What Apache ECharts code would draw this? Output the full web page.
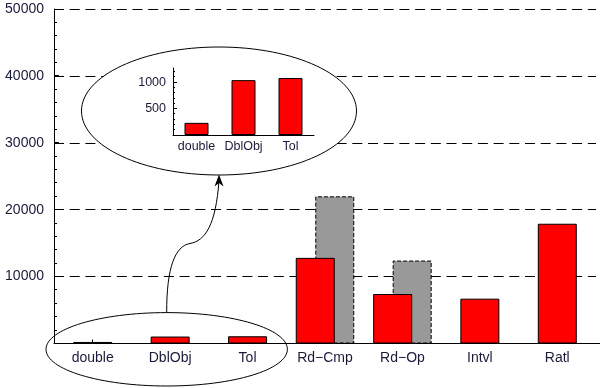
<!DOCTYPE html>
<html><head><meta charset="utf-8">
<script src="https://cdn.jsdelivr.net/npm/echarts@6/dist/echarts.min.js"></script>
<style>html,body{margin:0;padding:0;background:#fff}#c{width:600px;height:388px}</style>
</head><body><div id="c"></div>
<script>
// ---- data ----
const categories = ['double', 'DblObj', 'Tol', 'Rd\u2212Cmp', 'Rd\u2212Op', 'Intvl', 'Ratl'];
const redValues = [230, 1040, 1080, 12800, 7400, 6700, 17900];
const grayValues = [null, null, null, 22000, 12400, null, null];
const yTicks = [0, 10000, 20000, 30000, 40000, 50000];
const yMinorStep = 2000;
const insetCategories = ['double', 'DblObj', 'Tol'];
const insetValues = [230, 1040, 1080];
const insetTicks = [0, 500, 1000];
const insetMinorStep = 100;
const insetMax = 1270;

// ---- styles ----
const FONT = 'Liberation Sans, Arial, sans-serif';
const TXT = '#1a1a3a';
const RED = {color: '#ff0000', borderColor: '#000', borderWidth: 1};
const plain = v => String(v);

const chart = echarts.init(document.getElementById('c'), null, {renderer: 'canvas'});

const singleRed = redValues.map((v, i) => grayValues[i] == null ? v : '-');
const pairedRed = redValues.map((v, i) => grayValues[i] != null ? v : '-');
const pairedGray = grayValues.map(v => v == null ? '-' : v);

const yMin = yTicks[0], yMax = yTicks[yTicks.length - 1];
const MAIN_LEFT = 54, INSET_LEFT = 173;

const decorations = [
  {type: 'ellipse', z: 5, shape: {cx: 219, cy: 111, rx: 137.5, ry: 64},
   style: {fill: '#fff', stroke: '#000', lineWidth: 1}},
  {type: 'ellipse', z: 20, shape: {cx: 166.7, cy: 349.3, rx: 120.7, ry: 36.7},
   style: {fill: null, stroke: '#000', lineWidth: 1}},
  {type: 'bezierCurve', z: 20, shape: {x1: 166.7, y1: 312.5, cpx1: 166.5, cpy1: 268, cpx2: 175, cpy2: 246, x2: 190, y2: 243.5},
   style: {fill: null, stroke: '#000', lineWidth: 1}},
  {type: 'bezierCurve', z: 20, shape: {x1: 190, y1: 243.5, cpx1: 205, cpy1: 241, cpx2: 216, cpy2: 225, x2: 219, y2: 180},
   style: {fill: null, stroke: '#000', lineWidth: 1}},
  {type: 'polygon', z: 20, shape: {points: [[219, 174.5], [214.5, 186.5], [219, 183], [223.5, 186.5]]},
   style: {fill: '#000', stroke: null}},
  {type: 'line', z: 1, shape: {x1: 595, y1: 343.5, x2: 600, y2: 343.5},
   style: {stroke: '#000', lineWidth: 1}}
];

chart.setOption({
  animation: false,
  backgroundColor: '#fff',
  textStyle: {fontFamily: FONT},
  grid: [
    {left: MAIN_LEFT, right: 4, top: 9, bottom: 44.5},
    {left: INSET_LEFT, top: 68, width: 141, height: 67, z: 10}
  ],
  xAxis: [
    {
      type: 'category', data: categories, gridIndex: 0,
      axisLine: {lineStyle: {color: '#000', width: 1}},
      axisTick: {show: false},
      axisLabel: {color: TXT, fontSize: 14, fontFamily: FONT, margin: 8, interval: 0},
      splitLine: {show: false}
    },
    {
      type: 'category', data: categories, gridIndex: 0, show: false
    },
    {
      type: 'category', data: insetCategories, gridIndex: 1, z: 10,
      axisLine: {lineStyle: {color: '#000', width: 1}},
      axisTick: {show: false},
      axisLabel: {color: TXT, fontSize: 12.5, fontFamily: FONT, margin: 5, interval: 0},
      splitLine: {show: false}
    }
  ],
  yAxis: [
    {
      type: 'value', gridIndex: 0, position: 'left',
      min: yMin, max: yMax, interval: yTicks[1] - yTicks[0],
      axisLine: {show: true, lineStyle: {color: '#000', width: 1}},
      axisTick: {show: false}, minorTick: {show: false},
      axisLabel: {color: TXT, fontSize: 14, fontFamily: FONT, margin: 10, formatter: plain, showMinLabel: false},
      splitLine: {show: true, lineStyle: {color: '#000', width: 1, type: [10, 5.7]}}
    },
    {
      type: 'value', gridIndex: 1, z: 10, position: 'left',
      min: insetTicks[0], max: insetMax, interval: insetTicks[1] - insetTicks[0],
      axisLine: {show: true, lineStyle: {color: '#000', width: 1}},
      axisTick: {show: false}, minorTick: {show: false},
      axisLabel: {color: TXT, fontSize: 12.5, fontFamily: FONT, margin: 7, formatter: plain, showMinLabel: false, showMaxLabel: false},
      splitLine: {show: false}
    }
  ],
  series: [
    {type: 'bar', xAxisIndex: 0, yAxisIndex: 0, data: singleRed, barWidth: 39, itemStyle: RED, z: 3},
    {type: 'bar', xAxisIndex: 1, yAxisIndex: 0, data: pairedRed, barWidth: 39, barGap: '-50%', itemStyle: RED, z: 3},
    {type: 'bar', xAxisIndex: 1, yAxisIndex: 0, data: pairedGray, barWidth: 39, barGap: '-50%', z: 2,
     itemStyle: {color: '#999999', borderColor: '#000', borderWidth: 1, borderType: [4, 2]}},
    {type: 'bar', xAxisIndex: 2, yAxisIndex: 1, data: insetValues, barWidth: 24, z: 11, itemStyle: RED}
  ],
  graphic: {elements: decorations}
});

// inward ticks, positioned through the axes' own scales
const ticks = [];
const px = v => Math.floor(v) + 0.5;
for (let v = yMin; v <= yMax; v += yMinorStep) {
  const y = px(chart.convertToPixel({yAxisIndex: 0}, v));
  const len = (v % (yTicks[1] - yTicks[0]) === 0) ? 5 : 3;
  ticks.push({type: 'line', z: 4, shape: {x1: MAIN_LEFT, y1: y, x2: MAIN_LEFT + len, y2: y}, style: {stroke: '#000', lineWidth: 1}});
}
for (let v = insetTicks[0] + insetMinorStep; v < insetMax; v += insetMinorStep) {
  const y = px(chart.convertToPixel({yAxisIndex: 1}, v));
  const len = (v % (insetTicks[1] - insetTicks[0]) === 0) ? 4 : 2;
  ticks.push({type: 'line', z: 12, shape: {x1: INSET_LEFT, y1: y, x2: INSET_LEFT + len, y2: y}, style: {stroke: '#000', lineWidth: 1}});
}
categories.forEach((c, i) => {
  const x = px(chart.convertToPixel({xAxisIndex: 0}, c));
  const y0 = chart.convertToPixel({yAxisIndex: 0}, 0);
  ticks.push({type: 'line', z: 1, shape: {x1: x, y1: y0, x2: x, y2: y0 - 4}, style: {stroke: '#000', lineWidth: 1}});
});
chart.setOption({graphic: {elements: decorations.concat(ticks)}});
</script>
</body></html>
